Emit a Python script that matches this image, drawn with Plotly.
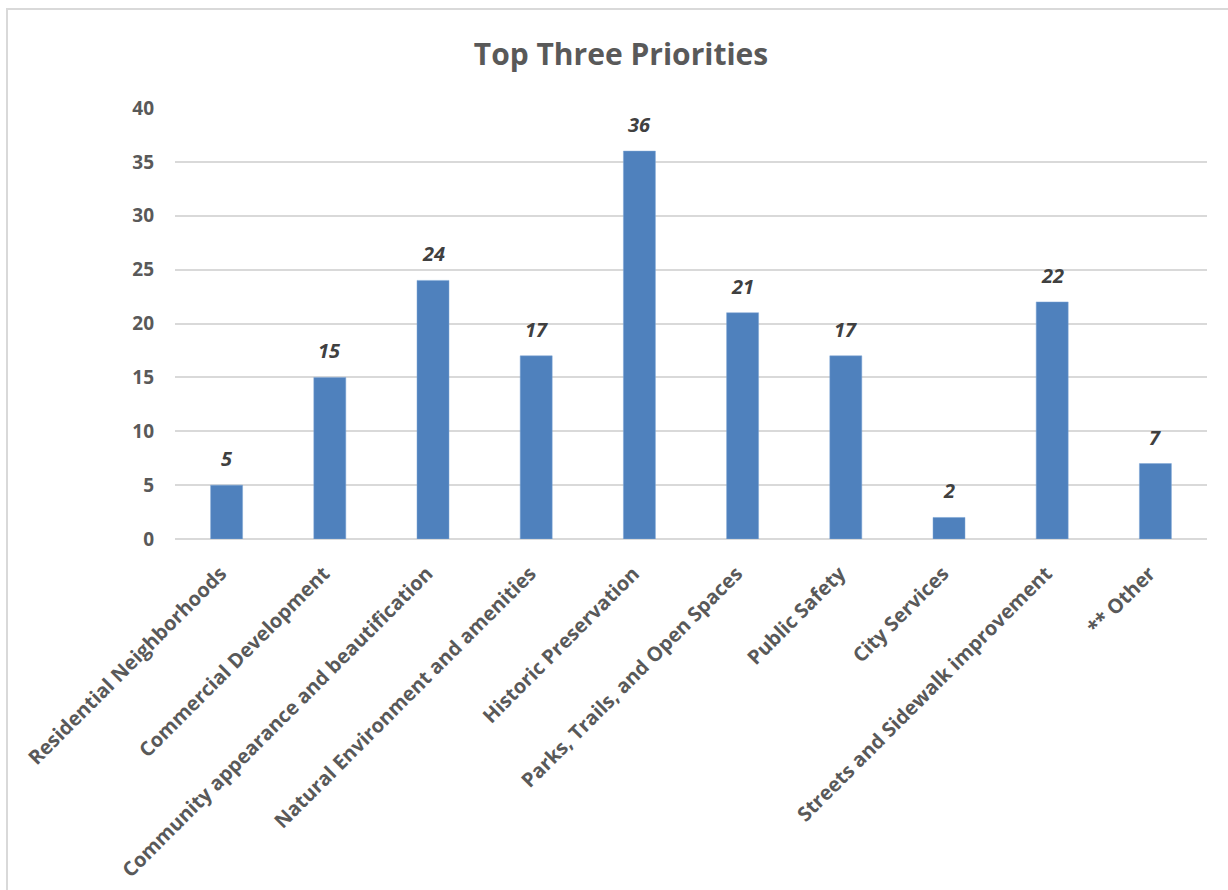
import plotly.graph_objects as go

categories = ["Residential Neighborhoods", "Commercial Development",
              "Community appearance and beautification",
              "Natural Environment and amenities", "Historic Preservation",
              "Parks, Trails, and Open Spaces", "Public Safety", "City Services",
              "Streets and Sidewalk improvement", "** Other"]
values = [5, 15, 24, 17, 36, 21, 17, 2, 22, 7]
y_ticks = [0, 5, 10, 15, 20, 25, 30, 35, 40]

W, H = 1228, 890
L, R, T, B = 175, 21, 108, 351
pw, ph = W - L - R, H - T - B

fig = go.Figure(go.Bar(
    x=categories, y=values,
    marker=dict(color="#4F81BD", line=dict(color="#7FA6D6", width=0.5)),
))

for c, v in zip(categories, values):
    fig.add_annotation(x=c, y=v, text=str(v), showarrow=False,
                       yanchor="bottom", yshift=11,
                       font=dict(family="Open Sans", size=20, color="#404040",
                                 weight="bold", style="italic"))

fig.update_layout(
    width=W, height=H,
    margin=dict(l=L, r=R, t=T, b=B),
    paper_bgcolor="white", plot_bgcolor="white",
    bargap=0.69,
    showlegend=False,
    title=dict(text="Top Three Priorities", x=(621 - L) / pw, xref="paper",
               xanchor="center", y=1 - 54 / H, yanchor="middle",
               font=dict(family="Open Sans", size=30, color="#595959",
                         weight="bold")),
    xaxis=dict(tickangle=-45, showgrid=False, showline=False, ticks="",
               ticklabelstandoff=18, ticklabelshift=-6,
               tickfont=dict(family="Open Sans", size=20, color="#595959",
                             weight="bold"),
               automargin=False),
    yaxis=dict(range=[0, 40], tickvals=y_ticks, showgrid=True,
               gridcolor="#D9D9D9", gridwidth=1.5, zeroline=True,
               zerolinecolor="#D9D9D9", zerolinewidth=1.5,
               showline=False, ticks="", ticklabelstandoff=20,
               tickfont=dict(family="Open Sans", size=19, color="#595959",
                             weight="bold"),
               automargin=False),
    font=dict(family="Open Sans"),
)

fig.add_shape(type="rect", xref="paper", yref="paper",
              x0=(7 - L) / pw, x1=1.2, y0=-1.2, y1=(H - B - 9) / ph,
              line=dict(color="#D9D9D9", width=2), fillcolor="rgba(0,0,0,0)",
              layer="below")

fig.write_html("out.html")
